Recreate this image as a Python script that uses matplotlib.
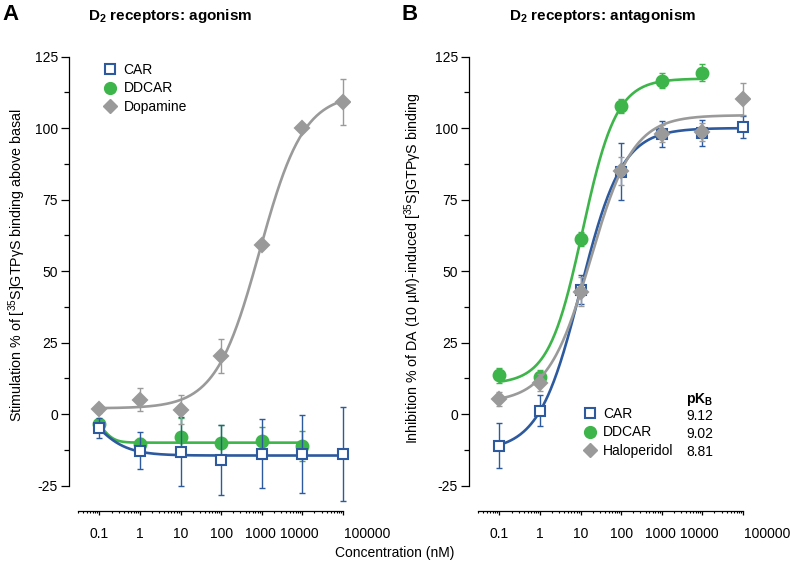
import numpy as np
import matplotlib
matplotlib.use("Agg")
import matplotlib.pyplot as plt
from matplotlib.ticker import FixedLocator, NullFormatter, MultipleLocator
from matplotlib.lines import Line2D
import matplotlib.transforms as mtransforms

plt.rcParams['font.family'] = ['Liberation Sans', 'DejaVu Sans']
plt.rcParams['mathtext.fontset'] = 'custom'
plt.rcParams['mathtext.rm'] = 'Liberation Sans'
plt.rcParams['mathtext.it'] = 'Liberation Sans:italic'
plt.rcParams['mathtext.bf'] = 'Liberation Sans:bold'

# ---------------- data ----------------
conc = [0.1, 1, 10, 100, 1000, 10000, 100000]

# Panel A: agonism
a_car = [-5, -12.8, -13.2, -16.1, -13.8, -14.0, -14.0]
a_car_err = [3.5, 6.5, 12, 12.3, 12, 13.5, 16.3]
a_ddcar = [-3.5, -10.3, -7.9, -10.0, -9.4, -11.2]
a_ddcar_err = [1.5, 2.0, 6.5, 6.0, 4.7, 5.3]
a_da = [1.8, 5.0, 1.5, 20.4, 59.2, 100.0, 109.0]
a_da_err = [1.5, 4.0, 5.0, 6.0, 1.0, 1.0, 8.0]

# Panel B: antagonism
b_car = [-11.0, 1.2, 43.5, 84.8, 97.8, 98.3, 100.4]
b_car_err = [8.0, 5.4, 5.0, 10.0, 4.5, 4.5, 3.7]
b_ddcar = [13.5, 12.8, 61.2, 107.8, 116.6, 119.3]
b_ddcar_err = [2.5, 2.5, 2.5, 2.5, 2.5, 3.0]
b_hal = [5.3, 11.0, 42.8, 85.0, 98.0, 98.6, 110.2]
b_hal_err = [2.5, 3.0, 5.0, 5.0, 3.0, 3.0, 5.6]

# fitted curve parameters: (left plateau, right plateau, logEC50, hill)
fit_a_car = (14.0, -14.5, -1.3, 1.0)
fit_a_ddcar = (-1.0, -10.0, -0.9, 3.0)
fit_a_da = (2.0, 112.0, 2.95, 0.8)
fit_b_car = (-13.0, 100.0, 1.0, 0.85)
fit_b_ddcar = (10.5, 117.3, 1.048, 1.04)
fit_b_hal = (4.0, 104.5, 1.25, 0.825)

pkb_names = ['CAR', 'DDCAR', 'Haloperidol']
pkb_values = ['9.12', '9.02', '8.81']

xtick_vals = [0.1, 1, 10, 100, 1000, 10000, 100000]
xtick_labels = ['0.1', '1', '10', '100', '1000', '10000', '100000']
ytick_vals = [-25, 0, 25, 50, 75, 100, 125]

BLUE = '#2d5a9e'
GREEN = '#3db54a'
GRAY = '#9a9a9a'

W, H = 790, 567
fig = plt.figure(figsize=(W / 100, H / 100), dpi=100)


def px_axes(l, t, r, b):
    return fig.add_axes([l / W, 1 - b / H, (r - l) / W, (b - t) / H])


def logistic(x, p):
    bottom, top, logec, h = p
    return bottom + (top - bottom) / (1 + 10 ** ((logec - np.log10(x)) * h))


def style_axes(ax):
    ax.set_xscale('log')
    ax.set_xlim(0.0179, 1.5e5)
    ax.set_ylim(-33.9, 125.2)
    for s in ['top', 'right']:
        ax.spines[s].set_visible(False)
    ax.spines['left'].set_bounds(-25, 125)
    ax.spines['bottom'].set_bounds(0.03, 100000)
    for s in ['left', 'bottom']:
        ax.spines[s].set_linewidth(0.9)
    ax.yaxis.set_major_locator(FixedLocator(ytick_vals))
    ax.yaxis.set_minor_locator(MultipleLocator(12.5))
    ax.set_yticklabels([str(v) for v in ytick_vals])
    ax.tick_params(axis='y', which='major', length=6, width=0.9, labelsize=10, pad=2)
    ax.tick_params(axis='y', which='minor', length=3.6, width=0.9)
    ax.xaxis.set_major_locator(FixedLocator(xtick_vals))
    ax.set_xticklabels(xtick_labels)
    minors = []
    for d in range(-2, 5):
        for k in range(2, 10):
            v = k * 10.0 ** d
            if 0.029 < v < 100000:
                minors.append(v)
    ax.xaxis.set_minor_locator(FixedLocator(minors))
    ax.xaxis.set_minor_formatter(NullFormatter())
    ax.tick_params(axis='x', which='major', length=3, width=0.9, labelsize=10, pad=8.5)
    ax.tick_params(axis='x', which='minor', length=1.6, width=0.8)
    offsets = [0, 0, 0, 0, -1, -3, 24]
    for lab, off in zip(ax.get_xticklabels(), offsets):
        lab.set_transform(lab.get_transform() +
                          mtransforms.ScaledTranslation(off / 100, 0, fig.dpi_scale_trans))


def series(ax, y, err, color, marker, ms, mfc, p, zorder):
    x = conc[:len(y)]
    ax.errorbar(x, y, yerr=err, fmt='none', ecolor=color, elinewidth=1.0,
                capsize=2.5, capthick=1.0, zorder=zorder)
    xx = np.logspace(np.log10(x[0]), np.log10(x[-1]), 300)
    ax.plot(xx, logistic(xx, p), color=color, lw=1.9, zorder=zorder + 0.1,
            solid_capstyle='round')
    ax.plot(x, y, linestyle='none', marker=marker, ms=ms, mfc=mfc, mec=color,
            mew=1.5, zorder=zorder + 0.2)


def make_handles():
    return [
        Line2D([], [], ls='none', marker='s', ms=7.2, mfc='white', mec=BLUE, mew=1.5),
        Line2D([], [], ls='none', marker='o', ms=8.5, mfc=GREEN, mec=GREEN),
        Line2D([], [], ls='none', marker='D', ms=7.0, mfc=GRAY, mec=GRAY),
    ]


# ---------------- Panel A ----------------
axA = px_axes(69, 56, 350, 511)
style_axes(axA)
series(axA, a_ddcar, a_ddcar_err, GREEN, 'o', 8.5, GREEN, fit_a_ddcar, 3)
series(axA, a_car, a_car_err, BLUE, 's', 7.8, 'white', fit_a_car, 4)
series(axA, a_da, a_da_err, GRAY, 'D', 7.2, GRAY, fit_a_da, 5)

axA.legend(make_handles(), ['CAR', 'DDCAR', 'Dopamine'], loc='upper left',
           bbox_to_anchor=((104 - 69) / 281, 1 - (63 - 56) / 455),
           frameon=False, fontsize=10, handlelength=0.9, handletextpad=0.5,
           labelspacing=0.32, borderpad=0, borderaxespad=0)

# ---------------- Panel B ----------------
axB = px_axes(469, 56, 750, 511)
style_axes(axB)
series(axB, b_ddcar, b_ddcar_err, GREEN, 'o', 8.5, GREEN, fit_b_ddcar, 3)
series(axB, b_car, b_car_err, BLUE, 's', 7.8, 'white', fit_b_car, 4)
series(axB, b_hal, b_hal_err, GRAY, 'D', 7.2, GRAY, fit_b_hal, 5)

axB.legend(make_handles(), pkb_names, loc='upper left',
           bbox_to_anchor=((584 - 469) / 281, 1 - (407 - 56) / 455),
           frameon=False, fontsize=10, handlelength=0.9, handletextpad=0.45,
           labelspacing=0.32, borderpad=0, borderaxespad=0)
rows_y = [415.5, 433.5, 451.5]
for val, yy in zip(pkb_values, rows_y):
    fig.text(713 / W, 1 - yy / H, val, ha='right', va='center', fontsize=10)
fig.text(713 / W, 1 - 400 / H, r'pK$_\mathbf{B}$', ha='right', va='center',
         fontsize=10, fontweight='bold')

# ---------------- text ----------------
fig.text(2 / W, 1 - 15 / H, 'A', fontsize=16, fontweight='bold', va='center', ha='left')
fig.text(401 / W, 1 - 15 / H, 'B', fontsize=16, fontweight='bold', va='center', ha='left')
fig.text(170 / W, 1 - 16 / H, r'D$_\mathbf{2}$ receptors: agonism', fontsize=11,
         fontweight='bold', ha='center', va='center')
fig.text(603 / W, 1 - 16 / H, r'D$_\mathbf{2}$ receptors: antagonism', fontsize=11,
         fontweight='bold', ha='center', va='center')
fig.text(17 / W, 1 - 265 / H, r'Stimulation % of [$^{35}$S]GTPγS binding above basal',
         rotation=90, fontsize=10.3, ha='center', va='center')
fig.text(413 / W, 1 - 268 / H, r'Inhibition % of DA (10 µM)-induced [$^{35}$S]GTPγS binding',
         rotation=90, fontsize=10.3, ha='center', va='center')
fig.text(395 / W, 1 - 553 / H, 'Concentration (nM)', fontsize=10, ha='center', va='center')

fig.savefig('out.png', dpi=100)
